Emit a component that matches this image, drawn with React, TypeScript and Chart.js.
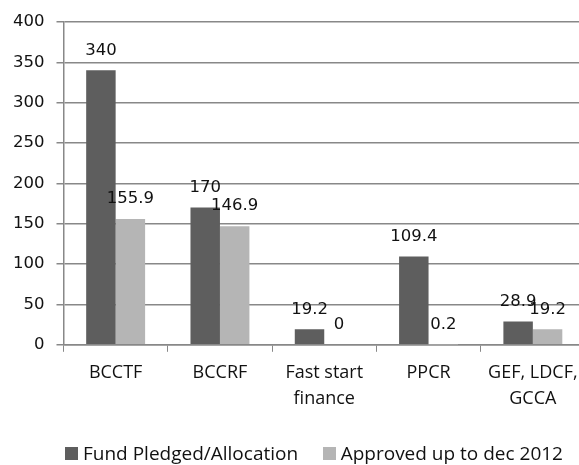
import React, { useEffect, useRef } from "react";
import { Chart, registerables } from "chart.js";

Chart.register(...registerables);

const categories: (string | string[])[] = [
  "BCCTF",
  "BCCRF",
  ["Fast start", "finance"],
  "PPCR",
  ["GEF, LDCF,", "GCCA"],
];
const pledged = [340, 170, 19.2, 109.4, 28.9];
const approved = [155.9, 146.9, 0, 0.2, 19.2];
const seriesNames = ["Fund Pledged/Allocation", "Approved up to dec 2012"];
const seriesColors = ["#5e5e5e", "#b5b5b5"];
const yMin = 0;
const yMax = 400;
const yStep = 50;

const TEXT_FONT = "'Open Sans', 'DejaVu Sans', sans-serif";
const NUM_FONT = "'DejaVu Sans', sans-serif";

const valueLabels = {
  id: "valueLabels",
  afterDatasetsDraw(chart: any) {
    const ctx = chart.ctx;
    ctx.save();
    ctx.font = `16.5px ${NUM_FONT}`;
    ctx.fillStyle = "#111";
    ctx.textAlign = "center";
    ctx.textBaseline = "middle";
    chart.data.datasets.forEach((ds: any, i: number) => {
      const meta = chart.getDatasetMeta(i);
      meta.data.forEach((el: any, j: number) => {
        ctx.fillText(String(ds.data[j]), el.x, el.y - 20);
      });
    });
    ctx.restore();
  },
};

export default function App() {
  const ref = useRef<HTMLCanvasElement>(null);
  useEffect(() => {
    if (!ref.current) return;
    const chart = new Chart(ref.current, {
      type: "bar",
      data: {
        labels: categories,
        datasets: [
          {
            label: seriesNames[0],
            data: pledged,
            backgroundColor: seriesColors[0],
            categoryPercentage: 0.565,
            barPercentage: 1,
          },
          {
            label: seriesNames[1],
            data: approved,
            backgroundColor: seriesColors[1],
            categoryPercentage: 0.565,
            barPercentage: 1,
          },
        ],
      },
      plugins: [valueLabels],
      options: {
        animation: false,
        responsive: false,
        maintainAspectRatio: false,
        layout: { padding: { left: 1, right: 1, top: 15.5, bottom: 45 } },
        scales: {
          x: {
            grid: {
              drawOnChartArea: false,
              color: "#888",
              tickLength: 7,
              offset: true,
            },
            border: { color: "#888", width: 1.5 },
            ticks: {
              color: "#111",
              font: { family: TEXT_FONT, size: 18, lineHeight: 1.45 },
              padding: 8,
              maxRotation: 0,
              autoSkip: false,
            },
          },
          y: {
            min: yMin,
            max: yMax,
            grid: { color: "#888", lineWidth: 1.5, tickLength: 7 },
            border: { color: "#888", width: 1.5 },
            ticks: {
              stepSize: yStep,
              color: "#111",
              font: { family: NUM_FONT, size: 16.5 },
              padding: 12,
            },
          },
        },
        plugins: {
          legend: { display: false },
          tooltip: { enabled: false },
        },
      },
    });
    return () => chart.destroy();
  }, []);

  const legendItem = (i: number) => (
    <div key={i} style={{ display: "flex", alignItems: "center" }}>
      <span
        style={{
          display: "inline-block",
          width: 13,
          height: 13,
          background: seriesColors[i],
          marginRight: 5,
        }}
      />
      <span>{seriesNames[i]}</span>
    </div>
  );

  return (
    <div
      style={{
        position: "fixed",
        left: 0,
        top: 0,
        width: 579,
        height: 465,
        overflow: "hidden",
        background: "#fff",
      }}
    >
      <canvas ref={ref} width={586} height={465} style={{ display: "block" }} />
      <div
        style={{
          position: "absolute",
          left: 65,
          width: 498,
          top: 440,
          height: 26,
          display: "flex",
          justifyContent: "space-between",
          alignItems: "center",
          fontFamily: TEXT_FONT,
          fontSize: 19,
          color: "#111",
          whiteSpace: "nowrap",
        }}
      >
        {legendItem(0)}
        {legendItem(1)}
      </div>
    </div>
  );
}
